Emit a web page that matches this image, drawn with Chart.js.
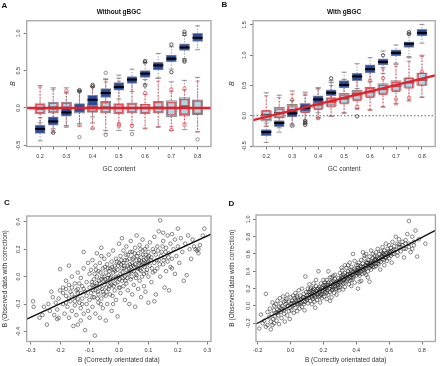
<!DOCTYPE html>
<html>
<head>
<meta charset="utf-8">
<script src="https://cdn.jsdelivr.net/npm/chart.js@4/dist/chart.umd.min.js"></script>
<style>
body { margin: 0; background: #fff; width: 440px; height: 366px; position: relative; overflow: hidden; }
canvas { position: absolute; }
</style>
</head>
<body>
<canvas id="panelA" width="220" height="180" style="left:0;top:0"></canvas>
<canvas id="panelB" width="220" height="180" style="left:220px;top:0"></canvas>
<canvas id="panelC" width="220" height="186" style="left:0;top:180px"></canvas>
<canvas id="panelD" width="220" height="186" style="left:220px;top:180px"></canvas>
<script>
const FONT = '"Liberation Sans", Arial, sans-serif';

// GC content categories and tick labels
const gc = [0.2, 0.25, 0.3, 0.35, 0.4, 0.45, 0.5, 0.55, 0.6, 0.65, 0.7, 0.75, 0.8];
const yTicksA = [-0.5, 0, 0.5, 1];
const yTicksB = [-0.5, 0, 0.5, 1, 1.5];
const xTicksC = [-0.3, -0.2, -0.1, 0, 0.1, 0.2, 0.3];
const yTicksC = [-0.4, -0.2, 0, 0.2, 0.4];
const xTicksD = [-0.2, 0, 0.2, 0.4, 0.6, 0.8];
const yTicksD = [-0.2, 0, 0.2, 0.4, 0.6, 0.8, 1.0];

// box stats per GC class: [low whisker, q1, median, q3, high whisker]
const darkA = [[-0.44,-0.34,-0.28,-0.23,-0.13],[-0.33,-0.23,-0.18,-0.12,-0.02],[-0.24,-0.11,-0.06,0.02,0.2],[-0.21,-0.06,0.0,0.06,0.22],
  [-0.12,0.03,0.11,0.17,0.28],[0.01,0.14,0.2,0.26,0.38],[0.12,0.24,0.28,0.34,0.44],[0.22,0.33,0.38,0.42,0.52],[0.32,0.41,0.46,0.5,0.61],
  [0.4,0.51,0.57,0.61,0.73],[0.52,0.62,0.66,0.71,0.82],[0.66,0.77,0.81,0.86,0.97],[0.78,0.89,0.94,1.0,1.1]];
const lightA = [[-0.2,-0.08,-0.01,0.06,0.3],[-0.28,-0.07,0.01,0.08,0.27],[-0.24,-0.09,0.0,0.08,0.27],[-0.23,-0.07,-0.02,0.05,0.24],
  [-0.2,-0.06,0.02,0.06,0.29],[-0.3,-0.07,0.01,0.09,0.39],[-0.3,-0.08,0.0,0.06,0.4],[-0.3,-0.07,0.0,0.07,0.39],[-0.27,-0.08,0.0,0.05,0.38],
  [-0.25,-0.07,0.01,0.09,0.4],[-0.3,-0.12,0.0,0.1,0.35],[-0.29,-0.11,0.02,0.14,0.37],[-0.32,-0.09,0.0,0.11,0.41]];
const redA = [[-0.25,-0.07,-0.02,0.05,0.28],[-0.3,-0.06,0.0,0.07,0.25],[-0.26,-0.08,0.01,0.07,0.21],[-0.25,-0.05,0.0,0.04,0.22],
  [-0.28,-0.05,0.01,0.06,0.27],[-0.34,-0.06,0.0,0.08,0.35],[-0.2,-0.07,0.01,0.05,0.36],[-0.22,-0.06,0.0,0.06,0.35],[-0.28,-0.07,0.01,0.05,0.18],
  [-0.26,-0.06,0.0,0.08,0.36],[-0.25,-0.1,0.01,0.08,0.22],[-0.2,-0.09,0.03,0.12,0.24],[-0.32,-0.08,0.0,0.1,0.36]];
const darkOutA = [[0.25,-0.33],[0.35,0.24],[0.35,0.22],[0.4,0.31],[0.4,0.29],[0.6,0.63],[0.6,0.61],[0.6,0.3],[0.7,0.85],[0.7,0.48],
  [0.75,1.02],[0.75,0.99],[0.75,0.64],[0.75,0.62]];
const lightOutA = [[0.35,-0.39],[0.4,-0.27],[0.45,0.47],[0.45,-0.36],[0.55,-0.35],[0.8,-0.42]];
const redOutA = [[0.3,0.23],[0.5,-0.22],[0.5,-0.24],[0.55,-0.24],[0.6,0.2],[0.7,0.25],[0.7,-0.29],[0.75,0.26],[0.75,-0.23]];
const fitA = [0, 0];

const darkB = [[-0.44,-0.33,-0.27,-0.23,-0.12],[-0.27,-0.18,-0.12,-0.08,0.03],[-0.17,-0.02,0.04,0.1,0.25],[-0.07,0.07,0.13,0.2,0.34],
  [0.05,0.21,0.27,0.33,0.46],[0.19,0.33,0.38,0.43,0.58],[0.3,0.46,0.51,0.58,0.72],[0.45,0.58,0.65,0.7,0.86],[0.56,0.71,0.77,0.84,0.96],
  [0.7,0.84,0.89,0.94,1.07],[0.85,0.99,1.04,1.09,1.17],[0.98,1.13,1.19,1.22,1.35],[1.2,1.32,1.37,1.43,1.51]];
const lightB = [[-0.17,-0.09,0.02,0.08,0.38],[-0.2,-0.04,0.05,0.14,0.34],[-0.15,0.03,0.1,0.19,0.41],[-0.13,0.06,0.14,0.2,0.39],
  [-0.03,0.12,0.19,0.27,0.46],[-0.01,0.16,0.23,0.3,0.55],[0.05,0.21,0.29,0.37,0.6],[0.12,0.27,0.36,0.42,0.69],[0.1,0.32,0.4,0.47,0.79],
  [0.15,0.37,0.44,0.53,0.8],[0.2,0.42,0.49,0.58,0.87],[0.26,0.47,0.55,0.62,0.96],[0.31,0.5,0.59,0.7,1.0]];
const redB = [[-0.18,-0.07,0.0,0.09,0.33],[-0.17,-0.03,0.04,0.12,0.3],[-0.13,0.02,0.09,0.17,0.36],[-0.1,0.05,0.13,0.19,0.36],
  [-0.05,0.1,0.17,0.25,0.44],[0.0,0.14,0.22,0.29,0.5],[0.04,0.19,0.27,0.35,0.55],[0.1,0.25,0.33,0.4,0.63],[0.09,0.3,0.38,0.46,0.72],
  [0.14,0.35,0.43,0.51,0.77],[0.18,0.4,0.48,0.56,0.82],[0.24,0.45,0.54,0.63,0.9],[0.3,0.5,0.59,0.71,0.98]];
const darkOutB = [[0.35,-0.09],[0.35,-0.12],[0.35,-0.15],[0.45,0.62],[0.55,-0.01],[0.65,1.0],[0.75,1.38],[0.75,1.35]];
const lightOutB = [[0.4,-0.04],[0.3,-0.17]];
const redOutB = [[0.3,0.26],[0.45,0.35],[0.55,0.15],[0.6,0.58],[0.65,0.62],[0.7,0.27],[0.75,0.3],[0.8,0.73]];
const fitB = [-0.23, 1.054];
const zeroB = [0, 0];

// panel C: B correctly orientated (x) vs observed with correction (y)
const scatterC = [
  [-0.292,-0.18],[-0.29,-0.22],[-0.245,-0.35],[-0.26,-0.28],[-0.23,-0.11],[-0.225,-0.15],[-0.215,-0.19],[-0.21,-0.24],[-0.205,-0.3],[-0.2,0.055],
  [-0.24,-0.2],[-0.22,-0.28],[-0.235,-0.25],[-0.255,-0.22],[-0.2,-0.1],[-0.205,-0.16],[-0.21,-0.31],[-0.27,-0.3],
  [-0.19,-0.08],[-0.19,-0.2],[-0.185,-0.27],[-0.18,-0.03],[-0.18,-0.14],[-0.175,-0.22],[-0.17,-0.06],[-0.17,-0.3],[-0.165,-0.11],[-0.165,-0.18],
  [-0.16,-0.25],[-0.16,0.0],[-0.155,-0.36],[-0.15,-0.05],[-0.15,-0.15],[-0.15,-0.21],[-0.145,-0.28],[-0.14,-0.09],[-0.14,-0.12],[-0.14,0.03],
  [-0.135,-0.19],[-0.13,-0.23],[-0.13,-0.32],[-0.13,-0.01],[-0.125,-0.07],[-0.125,-0.16],[-0.12,-0.27],[-0.12,0.06],[-0.115,-0.11],[-0.115,-0.39],
  [-0.11,-0.04],[-0.11,-0.2],[-0.11,-0.14],[-0.105,0.1],[-0.105,-0.25],[-0.1,-0.08],[-0.1,-0.17],[-0.1,0.02],[-0.1,-0.3],[-0.12,0.18],
  [-0.17,0.08],[-0.14,-0.35],[-0.19,-0.12],[-0.16,-0.08],[-0.18,-0.19],
  [-0.095,-0.12],[-0.095,0.05],[-0.09,-0.06],[-0.09,-0.22],[-0.09,0.12],[-0.085,-0.02],[-0.085,-0.15],[-0.082,-0.43],[-0.08,0.08],[-0.08,-0.1],
  [-0.08,-0.27],[-0.075,0.0],[-0.075,-0.05],[-0.075,0.17],[-0.07,-0.13],[-0.07,-0.19],[-0.07,0.04],[-0.065,-0.08],[-0.065,0.1],[-0.065,-0.3],
  [-0.06,-0.02],[-0.06,-0.16],[-0.06,0.21],[-0.055,0.06],[-0.055,-0.11],[-0.055,-0.23],[-0.05,0.0],[-0.05,-0.06],[-0.05,0.13],[-0.045,-0.14],
  [-0.045,0.03],[-0.045,-0.32],[-0.04,-0.04],[-0.04,0.09],[-0.04,-0.2],[-0.035,0.01],[-0.035,-0.09],[-0.035,0.16],[-0.03,-0.01],[-0.03,0.06],
  [-0.03,-0.13],[-0.025,0.11],[-0.025,-0.06],[-0.025,-0.25],[-0.02,0.03],[-0.02,-0.02],[-0.02,0.19],[-0.015,-0.1],[-0.015,0.08],[-0.01,0.0],
  [-0.01,-0.17],[-0.01,0.13],[-0.005,0.05],[-0.005,-0.04],[-0.005,-0.29],[0.0,0.1],[0.0,-0.08],[0.0,0.24],[-0.06,0.15],[-0.02,-0.2],
  [0.005,0.02],[0.005,0.15],[0.005,-0.12],[0.01,0.06],[0.01,-0.03],[0.01,0.28],[0.015,0.1],[0.015,-0.07],[0.015,0.19],[0.02,0.0],
  [0.02,0.12],[0.02,-0.17],[0.025,0.05],[0.025,0.22],[0.025,-0.05],[0.03,0.08],[0.03,-0.1],[0.03,0.16],[0.035,0.03],[0.035,0.13],
  [0.035,-0.2],[0.04,0.07],[0.04,0.26],[0.04,-0.02],[0.045,0.1],[0.045,0.18],[0.045,-0.13],[0.05,0.04],[0.05,0.14],[0.05,-0.06],
  [0.055,0.09],[0.055,0.21],[0.055,-0.22],[0.06,0.01],[0.06,0.12],[0.06,0.3],[0.065,0.06],[0.065,0.17],[0.065,-0.09],[0.07,0.1],
  [0.07,0.23],[0.07,-0.03],[0.075,0.04],[0.075,0.14],[0.075,-0.15],[0.08,0.08],[0.08,0.19],[0.08,0.27],[0.085,0.02],[0.085,0.12],
  [0.085,-0.07],[0.09,0.09],[0.09,0.16],[0.09,-0.11],[0.095,0.05],[0.095,0.22],[0.1,0.11],[0.1,0.0],[0.1,0.18],[0.1,-0.19],
  [0.105,0.08],[0.105,0.25],[0.11,0.14],[0.11,-0.04],[0.115,0.2],[0.115,0.03],[0.12,0.1],[0.12,0.29],[0.125,0.16],[0.125,-0.13],
  [0.13,0.06],[0.13,0.22],[0.135,0.12],[0.135,0.33],[0.14,0.41],[0.14,0.0],[0.145,0.18],[0.15,0.09],[0.15,0.26],[0.155,0.14],
  [0.155,-0.08],[0.16,0.21],[0.16,0.04],[0.165,0.3],[0.165,0.11],[0.17,-0.1],[0.17,0.17],[0.175,0.24],[0.175,0.07],[0.18,0.13],
  [0.18,0.31],[0.185,0.2],[0.19,0.02],[0.19,0.27],[0.195,0.15],[0.2,0.35],[0.2,0.22],[0.12,-0.18],[0.15,0.32],[0.18,0.06],
  [0.205,0.1],[0.21,0.28],[0.215,0.18],[0.22,-0.03],[0.225,0.24],[0.23,0.01],[0.235,0.3],[0.24,0.2],[0.245,0.13],[0.25,0.27],
  [0.255,0.22],[0.26,0.2],[0.265,0.19],[0.27,0.2],[0.275,0.23],[0.285,0.3],[0.29,0.35],[0.27,0.17],
  [-0.092,-0.04],[-0.088,-0.1],[-0.083,0.02],[-0.078,-0.07],[-0.073,-0.16],[-0.068,-0.03],[-0.063,0.03],[-0.058,-0.09],[-0.053,-0.03],[-0.048,0.07],
  [-0.043,-0.08],[-0.038,-0.01],[-0.033,0.04],[-0.028,-0.05],[-0.023,0.07],[-0.018,-0.07],[-0.013,0.04],[-0.008,-0.01],[-0.003,0.08],[0.002,-0.02],
  [0.007,0.09],[0.012,0.03],[0.017,0.06],[0.022,-0.03],[0.027,0.12],[0.032,0.02],[0.037,0.09],[0.042,0.04],[0.047,0.13],[0.052,0.07],
  [0.057,0.02],[0.062,0.15],[0.067,0.09],[0.072,0.05],[0.077,0.11],[0.082,0.16],[0.087,0.07],[0.092,0.13],[0.097,0.1],[0.102,0.15],
  [-0.09,-0.15],[-0.085,-0.07],[-0.078,0.05],[-0.072,-0.11],[-0.066,-0.05],[-0.062,-0.2],[-0.057,0.0],[-0.052,-0.13],[-0.047,-0.02],[-0.042,-0.11],
  [-0.037,0.06],[-0.032,-0.07],[-0.027,0.0],[-0.022,-0.14],[-0.017,0.05],[-0.012,-0.05],[-0.007,0.11],[-0.002,0.0],[0.003,-0.08],[0.008,0.12],
  [0.013,-0.01],[0.018,0.08],[0.023,0.16],[0.028,-0.01],[0.033,0.06],[0.038,0.18],[0.043,0.0],[0.048,0.08],[0.053,0.17],[0.058,-0.01],
  [0.063,0.06],[0.068,0.12],[0.073,0.2],[0.078,0.0],[0.083,0.1],[0.088,0.2],[0.093,0.03],[0.098,0.14],[0.108,0.12],[0.112,0.06],
  [-0.12,-0.09],[-0.125,-0.2],[-0.13,-0.12],[-0.135,-0.05],[-0.14,-0.16],[-0.145,-0.1],[-0.15,-0.18],[-0.16,-0.13],[-0.17,-0.16],[-0.18,-0.09],
  [0.118,0.18],[0.122,0.04],[0.128,0.12],[0.132,0.19],[0.138,0.09],[0.142,0.15],[0.148,0.22],[0.152,0.12],[0.158,0.18],[0.168,0.14]
];
const fitC = [0, 0.99];

// panel D
const scatterD = [
  [-0.19,-0.26],[-0.18,-0.1],[-0.17,-0.2],[-0.16,-0.17],[-0.15,0.14],[-0.15,-0.24],[-0.14,-0.07],[-0.14,-0.22],[-0.13,-0.43],[-0.13,-0.13],
  [-0.125,-0.03],[-0.12,-0.18],[-0.12,-0.27],[-0.115,-0.09],[-0.11,-0.22],[-0.105,-0.15],[-0.1,-0.05],[-0.1,0.0],[-0.1,-0.2],[-0.11,0.04],
  [-0.095,-0.12],[-0.09,-0.08],[-0.09,0.02],[-0.085,-0.17],[-0.08,-0.04],[-0.08,0.06],[-0.075,-0.11],[-0.07,-0.01],[-0.07,-0.21],[-0.065,0.09],
  [-0.06,-0.07],[-0.06,0.03],[-0.055,-0.14],[-0.05,0.0],[-0.05,-0.04],[-0.045,0.11],[-0.04,-0.09],[-0.04,0.05],[-0.035,-0.18],[-0.03,0.02],
  [-0.03,-0.03],[-0.025,0.08],[-0.02,-0.11],[-0.02,0.13],[-0.015,0.0],[-0.01,-0.06],[-0.01,0.05],[-0.005,-0.15],[0.0,0.03],[0.0,0.1],
  [0.005,-0.05],[0.01,0.06],[0.01,0.0],[0.015,0.12],[0.02,-0.08],[0.02,0.04],[0.025,0.09],[0.03,-0.02],[0.03,0.15],[0.035,0.05],
  [0.04,-0.06],[0.04,0.1],[0.045,0.02],[0.05,0.18],[0.05,0.07],[0.055,-0.03],[0.06,0.12],[0.06,0.03],[0.065,0.08],[0.07,0.2],
  [0.07,-0.01],[0.075,0.1],[0.08,0.05],[0.08,0.14],[0.085,-0.05],[0.09,0.09],[0.09,0.34],[0.095,0.16],[0.1,0.07],[0.1,0.12],
  [0.105,0.03],[0.105,0.2],[0.11,0.13],[0.11,0.09],[0.115,0.25],[0.12,0.06],[0.12,0.16],[0.125,0.11],[0.125,0.21],[0.13,0.02],
  [0.13,0.14],[0.135,0.18],[0.135,0.08],[0.14,0.26],[0.14,0.12],[0.145,0.05],[0.145,0.19],[0.15,0.15],[0.15,0.1],[0.155,0.23],
  [0.155,0.3],[0.16,0.17],[0.16,0.07],[0.165,0.13],[0.165,0.2],[0.17,0.4],[0.17,0.11],[0.175,0.22],[0.175,0.16],[0.18,0.04],
  [0.18,0.19],[0.185,0.26],[0.185,0.13],[0.19,0.21],[0.19,0.09],[0.195,0.17],[0.2,0.24],[0.2,0.14],[0.2,0.3],[0.15,-0.02],
  [0.205,0.19],[0.205,0.11],[0.21,0.27],[0.21,0.16],[0.215,0.22],[0.22,0.08],[0.22,0.3],[0.225,0.18],[0.23,0.24],[0.23,0.13],
  [0.235,0.2],[0.24,0.33],[0.24,0.16],[0.245,0.27],[0.25,0.22],[0.25,0.1],[0.255,0.19],[0.26,0.29],[0.26,0.25],[0.265,0.15],
  [0.27,0.23],[0.27,0.36],[0.275,0.2],[0.28,0.28],[0.28,0.13],[0.285,0.25],[0.29,0.21],[0.29,0.32],[0.295,0.18],[0.3,0.27],
  [0.3,0.38],[0.23,0.4],[0.25,0.33],[0.27,0.31],[0.22,0.25],[0.28,0.19],[0.24,0.06],[0.3,0.22],[0.26,0.35],[0.21,0.2],
  [0.305,0.31],[0.305,0.24],[0.31,0.35],[0.31,0.28],[0.315,0.41],[0.32,0.33],[0.32,0.26],[0.325,0.3],[0.33,0.22],[0.33,0.38],
  [0.335,0.34],[0.34,0.29],[0.34,0.44],[0.345,0.36],[0.35,0.31],[0.35,0.4],[0.355,0.25],[0.36,0.37],[0.36,0.33],[0.365,0.42],
  [0.37,0.3],[0.37,0.45],[0.375,0.36],[0.38,0.39],[0.38,0.6],[0.385,0.34],[0.39,0.43],[0.39,0.27],[0.395,0.38],[0.4,0.41],
  [0.4,0.35],[0.4,0.47],[0.36,0.5],[0.33,0.47],[0.37,0.23],[0.32,0.19],[0.35,0.47],[0.39,0.52],[0.31,0.44],[0.38,0.32],
  [0.405,0.38],[0.41,0.44],[0.41,0.2],[0.415,0.5],[0.42,0.41],[0.42,0.35],[0.425,0.46],[0.43,0.4],[0.43,0.53],[0.435,0.37],
  [0.44,0.45],[0.44,0.49],[0.445,0.42],[0.45,0.55],[0.45,0.38],[0.455,0.47],[0.46,0.43],[0.46,0.6],[0.465,0.5],[0.47,0.4],
  [0.47,0.46],[0.475,0.53],[0.48,0.44],[0.48,0.57],[0.485,0.49],[0.49,0.42],[0.49,0.52],[0.495,0.47],[0.5,0.55],[0.5,0.45],
  [0.5,0.6],[0.44,0.62],[0.42,0.28],[0.47,0.33],[0.43,0.29],[0.46,0.36],[0.49,0.64],[0.45,0.58],[0.41,0.47],[0.48,0.28],
  [0.505,0.5],[0.51,0.58],[0.51,0.45],[0.515,0.54],[0.52,0.62],[0.52,0.49],[0.525,0.57],[0.53,0.52],[0.53,0.66],[0.535,0.48],
  [0.54,0.6],[0.54,0.55],[0.545,0.42],[0.55,0.63],[0.55,0.51],[0.555,0.58],[0.56,0.68],[0.56,0.54],[0.565,0.6],[0.57,0.47],
  [0.57,0.64],[0.575,0.56],[0.58,0.72],[0.58,0.61],[0.585,0.52],[0.59,0.66],[0.59,0.58],[0.595,0.63],[0.6,0.7],[0.6,0.55],
  [0.605,0.62],[0.61,0.67],[0.615,0.5],[0.62,0.64],[0.62,0.74],[0.63,0.6],[0.63,0.69],[0.64,0.65],[0.64,0.8],[0.65,0.72],
  [0.65,0.58],[0.66,0.68],[0.66,0.77],[0.67,0.63],[0.68,0.74],[0.68,0.7],[0.69,0.56],[0.7,0.76],[0.7,0.66],[0.72,0.98],
  [0.72,0.72],[0.73,0.62],[0.74,0.8],[0.75,0.7],[0.76,0.87],[0.77,0.57],[0.78,0.77],[0.82,0.72],[0.71,0.83],[0.74,0.66],
  [0.02,0.01],[0.04,0.03],[0.06,0.07],[0.08,0.1],[0.1,0.09],[0.12,0.13],[0.14,0.16],[0.16,0.14],[0.18,0.17],[0.2,0.21],
  [0.22,0.2],[0.24,0.23],[0.26,0.22],[0.28,0.26],[0.3,0.3],[0.32,0.3],[0.34,0.33],[0.36,0.35],[0.38,0.37],[0.4,0.39],
  [0.42,0.43],[0.44,0.42],[0.46,0.46],[0.48,0.47],[0.5,0.5],[0.52,0.53],[0.54,0.52],[0.56,0.57],[0.58,0.56],[0.6,0.6],
  [0.03,0.07],[0.07,0.04],[0.11,0.16],[0.13,0.1],[0.17,0.2],[0.19,0.14],[0.23,0.27],[0.25,0.18],[0.27,0.26],[0.29,0.24],
  [0.31,0.33],[0.33,0.27],[0.35,0.37],[0.37,0.33],[0.39,0.41],[0.41,0.37],[0.43,0.45],[0.45,0.41],[0.47,0.5],[0.49,0.46],
  [0.51,0.53],[0.53,0.49],[0.55,0.56],[0.57,0.53],[0.59,0.61],[0.61,0.58],[0.63,0.65],[0.65,0.62],[0.67,0.68],[0.69,0.66],
  [-0.08,-0.08],[-0.06,-0.02],[-0.04,-0.05],[-0.02,0.0],[0.0,-0.02],[0.01,0.03],[0.05,0.02],[0.09,0.05],[0.15,0.12],[0.21,0.24],
  [0.25,0.28],[0.29,0.28],[0.33,0.31],[0.37,0.4],[0.41,0.41],[0.45,0.44],[0.49,0.5],[0.53,0.55],[0.57,0.59],[0.61,0.63],
  [0.22,0.15],[0.26,0.2],[0.32,0.36],[0.36,0.29],[0.42,0.38],[0.46,0.5],[0.52,0.46],[0.56,0.61],[0.62,0.6],[0.66,0.71],
  [0.14,0.2],[0.18,0.11],[0.12,0.19],[0.08,0.02],[0.04,0.12],[-0.03,0.06],[-0.07,-0.06],[0.7,0.72],[0.72,0.68],[0.75,0.74]
];
const fitD = [0, 0.99];

// draws whiskers, caps and medians on top of each box dataset
const boxPlugin = {
  id: 'boxParts',
  afterDatasetDraw(chart, args) {
    const ds = chart.data.datasets[args.index];
    if (!ds.stats) return;
    const y = chart.scales.y;
    const ctx = chart.ctx;
    ctx.save();
    args.meta.data.forEach((bar, i) => {
      const [lo, q1, med, q3, hi] = ds.stats[i];
      const half = bar.width / 2;
      ctx.strokeStyle = ds.whiskerColor;
      ctx.lineWidth = 0.8;
      ctx.setLineDash(ds.whiskerDash);
      ctx.beginPath();
      ctx.moveTo(bar.x, y.getPixelForValue(hi));
      ctx.lineTo(bar.x, y.getPixelForValue(q3));
      ctx.moveTo(bar.x, y.getPixelForValue(q1));
      ctx.lineTo(bar.x, y.getPixelForValue(lo));
      ctx.stroke();
      ctx.setLineDash([]);
      ctx.beginPath();
      ctx.moveTo(bar.x - half / 2, y.getPixelForValue(hi));
      ctx.lineTo(bar.x + half / 2, y.getPixelForValue(hi));
      ctx.moveTo(bar.x - half / 2, y.getPixelForValue(lo));
      ctx.lineTo(bar.x + half / 2, y.getPixelForValue(lo));
      ctx.stroke();
      ctx.strokeStyle = ds.medianColor;
      ctx.lineWidth = ds.medianWidth;
      ctx.beginPath();
      ctx.moveTo(bar.x - half, y.getPixelForValue(med));
      ctx.lineTo(bar.x + half, y.getPixelForValue(med));
      ctx.stroke();
    });
    ctx.restore();
  }
};

const framePlugin = {
  id: 'frame',
  afterDatasetsDraw(chart) {
    const a = chart.chartArea;
    const ctx = chart.ctx;
    ctx.save();
    ctx.strokeStyle = '#a6a6a6';
    ctx.lineWidth = 1.3;
    ctx.strokeRect(a.left, a.top, a.right - a.left, a.bottom - a.top);
    ctx.restore();
  }
};

const letterPlugin = {
  id: 'panelLetter',
  afterDraw(chart, args, opts) {
    const ctx = chart.ctx;
    ctx.save();
    ctx.font = 'bold 8px ' + FONT;
    ctx.fillStyle = '#111';
    ctx.textBaseline = 'middle';
    ctx.fillText(opts.text, opts.x, opts.y);
    ctx.restore();
  }
};

function axes(o) {
  const tickFont = { family: FONT, size: 5.5 };
  return {
    x: {
      type: 'linear', min: o.xMin, max: o.xMax, offset: false,
      afterBuildTicks: s => { s.ticks = o.xTicks.map(v => ({ value: v })); },
      afterFit: s => { s.height = o.xH; },
      grid: { drawOnChartArea: false, tickLength: 3, color: '#777', offset: false },
      border: { display: false },
      ticks: { font: tickFont, color: '#333', padding: o.xPad, maxRotation: 0, autoSkip: false, callback: o.xFmt },
      title: { display: true, text: o.xTitle, font: { family: FONT, size: 6.5 }, color: '#333', padding: { top: 0, bottom: o.xTitlePad } }
    },
    y: {
      type: 'linear', min: o.yMin, max: o.yMax,
      afterBuildTicks: s => { s.ticks = o.yTicks.map(v => ({ value: v })); },
      afterFit: s => { s.width = o.yW; },
      grid: { drawOnChartArea: false, tickLength: 3, color: '#777' },
      border: { display: false },
      ticks: { font: tickFont, color: '#333', padding: o.yPad, minRotation: 90, maxRotation: 90, crossAlign: 'center',
        callback: v => v.toFixed(1) },
      title: { display: true, text: o.yTitle, font: { family: FONT, size: o.yTitleSize, style: o.yTitleStyle }, color: '#333',
        padding: { top: o.yTitlePad, bottom: 0 } }
    }
  };
}

function boxSet(stats, fill, edge, edgeWidth, thick, median, medianWidth, whisker, dash, order) {
  return {
    type: 'bar', order, stats, grouped: false,
    data: gc.map((g, i) => ({ x: g, y: [stats[i][1], stats[i][3]] })),
    backgroundColor: fill, borderColor: edge, borderWidth: edgeWidth, borderSkipped: false, barThickness: thick,
    medianColor: median, medianWidth, whiskerColor: whisker, whiskerDash: dash
  };
}

function outSet(pts, color, order) {
  return {
    type: 'scatter', order, data: pts.map(p => ({ x: p[0], y: p[1] })),
    pointStyle: 'circle', pointRadius: 1.7, borderWidth: 0.8, borderColor: color, backgroundColor: 'rgba(0,0,0,0)'
  };
}

function fitSet(fit, range, color, width, order, dash) {
  return {
    type: 'line', order, data: range.map(x => ({ x, y: fit[0] + fit[1] * x })),
    borderColor: color, borderWidth: width, pointRadius: 0, borderDash: dash || [], fill: false
  };
}

function makeChart(id, type, datasets, cfg) {
  const plugins = { legend: { display: false }, tooltip: { enabled: false }, panelLetter: cfg.letter };
  if (cfg.title) {
    plugins.title = { display: true, text: cfg.title, fullSize: false, color: '#111',
      font: { family: FONT, size: 6.5, weight: 'bold' }, padding: { top: 8.1, bottom: 4.8 } };
  }
  return new Chart(document.getElementById(id), {
    type,
    data: { datasets },
    options: {
      responsive: false, animation: false, events: [],
      layout: { padding: cfg.pad },
      plugins,
      scales: axes(cfg.axes)
    },
    plugins: [framePlugin, boxPlugin, letterPlugin]
  });
}

const gcFmt = v => (Math.round(v * 100) % 10 === 0 ? v.toFixed(1) : '');
const numFmt = v => v.toFixed(1);
const rangeAB = [0.149, 0.851];

const DARK = '#2a4a9c', LIGHT = '#a4dbea', EDGE = '#8a8a8a', RED = 'rgba(232,60,70,0.85)';

function boxPanel(id, dark, light, red, darkOut, lightOut, redOut, fit, extra, cfg) {
  const sets = [
    fitSet(fit, rangeAB, '#ee1c24', 2.4, 0),
    outSet(darkOut, '#333', 2),
    boxSet(dark, DARK, '#8088a0', 1, 10, '#000', 2, '#777', [1.2, 1.6], 3),
    outSet(redOut, RED, 4),
    boxSet(red, 'rgba(0,0,0,0)', RED, 0.8, 8.5, RED, 1, RED, [2, 1.5], 5),
    outSet(lightOut, '#777', 6),
    boxSet(light, LIGHT, EDGE, 1, 10.5, '#555', 1.5, '#777', [1.2, 1.6], 7)
  ].concat(extra);
  return makeChart(id, 'bar', sets, cfg);
}

boxPanel('panelA', darkA, lightA, redA, darkOutA, lightOutA, redOutA, fitA, [], {
  title: 'Without gBGC', letter: { text: 'A', x: 1.5, y: 6 },
  pad: { left: 0, right: 9, top: 0, bottom: 0 },
  axes: { xMin: rangeAB[0], xMax: rangeAB[1], xTicks: gc, xFmt: gcFmt, xH: 33.5, xPad: 3.2, xTitle: 'GC content', xTitlePad: 6.8,
    yMin: -0.516, yMax: 1.169, yTicks: yTicksA, yW: 26.7, yPad: 0, yTitle: 'B', yTitleSize: 7, yTitleStyle: 'italic', yTitlePad: 8.6 }
});

boxPanel('panelB', darkB, lightB, redB, darkOutB, lightOutB, redOutB, fitB, [fitSet(zeroB, rangeAB, '#333', 0.8, 9, [1.5, 2])], {
  title: 'With gBGC', letter: { text: 'B', x: 1.5, y: 5 },
  pad: { left: 0, right: 1, top: 0, bottom: 0 },
  axes: { xMin: rangeAB[0], xMax: rangeAB[1], xTicks: gc, xFmt: gcFmt, xH: 33.5, xPad: 3.2, xTitle: 'GC content', xTitlePad: 6.8,
    yMin: -0.508, yMax: 1.571, yTicks: yTicksB, yW: 33, yPad: 1, yTitle: 'B', yTitleSize: 7, yTitleStyle: 'italic', yTitlePad: 7.8 }
});

function scatterPanel(id, pts, fit, cfg) {
  const sets = [
    fitSet(fit, [cfg.axes.xMin, cfg.axes.xMax], '#111', 1.4, 0),
    { type: 'scatter', order: 1, data: pts.map(p => ({ x: p[0], y: p[1] })), pointRadius: 1.8, borderWidth: 0.6,
      borderColor: 'rgba(30,30,30,0.85)', backgroundColor: 'rgba(0,0,0,0)' }
  ];
  return makeChart(id, 'scatter', sets, cfg);
}

scatterPanel('panelC', scatterC, fitC, {
  letter: { text: 'C', x: 4, y: 23 },
  pad: { left: 0, right: 9, top: 36, bottom: 0 },
  axes: { xMin: -0.3136, xMax: 0.3126, xTicks: xTicksC, xFmt: numFmt, xH: 24.5, xPad: 2.2, xTitle: 'B (Correctly orientated data)', xTitlePad: 1.6,
    yMin: -0.473, yMax: 0.442, yTicks: yTicksC, yW: 26.7, yPad: 0, yTitle: 'B (Observed data with correction)', yTitleSize: 6.5, yTitleStyle: 'normal', yTitlePad: 1.6 }
});

scatterPanel('panelD', scatterD, fitD, {
  letter: { text: 'D', x: 8.5, y: 24 },
  pad: { left: 0, right: 0.7, top: 35, bottom: 0 },
  axes: { xMin: -0.21, xMax: 0.881, xTicks: xTicksD, xFmt: numFmt, xH: 24.5, xPad: 2.2, xTitle: 'B (Correctly orientated data)', xTitlePad: 1.6,
    yMin: -0.41, yMax: 1.05, yTicks: yTicksD, yW: 36, yPad: 0, yTitle: 'B (Observed data with correction)', yTitleSize: 6.5, yTitleStyle: 'normal', yTitlePad: 8.8 }
});
</script>
</body>
</html>
